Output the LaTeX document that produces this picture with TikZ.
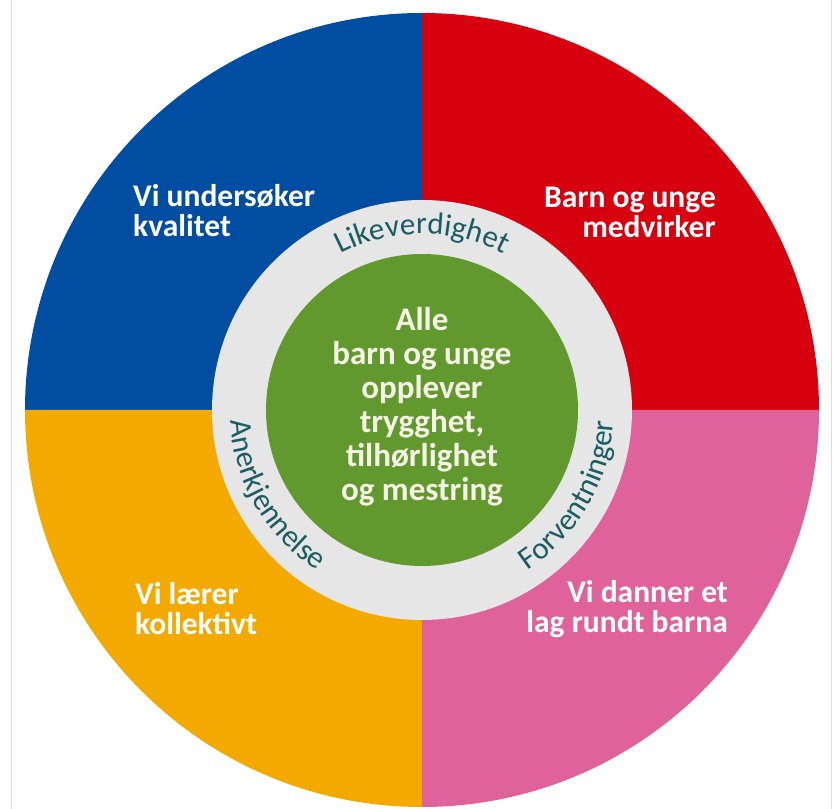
\documentclass[tikz,border=0pt]{standalone}
\usepackage{fontspec}
\setmainfont{Carlito}
\usetikzlibrary{decorations.text}

\definecolor{quadblue}{HTML}{004DA2}
\definecolor{quadred}{HTML}{D7000F}
\definecolor{quadyellow}{HTML}{F3A900}
\definecolor{quadpink}{HTML}{E0629A}
\definecolor{coregreen}{HTML}{62992E}
\definecolor{ringgray}{HTML}{E6E6E6}
\definecolor{ringteal}{HTML}{1A5C63}
\definecolor{coretext}{HTML}{F6F4E6}
\definecolor{framegray}{HTML}{DCDCDC}

\def\outerrad{397pt}
\def\ringrad{210pt}
\newcommand\ringfont{\fontsize{31}{31}\selectfont\color{ringteal}}

\begin{document}
\begin{tikzpicture}[x=1pt,y=1pt]
    \tikzstyle{quadrant text}=[text=white, font=\fontsize{31.5}{30}\selectfont\bfseries, inner sep=0pt]
    \tikzstyle{core}=[circle, fill=coregreen, minimum size=312pt, inner sep=0pt]
    \tikzstyle{core text}=[align=center, inner sep=0pt, text=coretext, font=\fontsize{33}{34}\selectfont\bfseries]
    \tikzstyle{ring label}=[decorate, decoration={text along path, text align=center, text={|\ringfont|#1}}]

    \useasboundingbox (0,0) rectangle (836,809);
    \coordinate (O) at (422,399);

    % Draw the frame edges
    \draw[framegray, line width=1pt] (11,0) -- (11,809);
    \draw[framegray, line width=1pt] (831,0) -- (831,809);

    % Draw the four quadrants
    \fill[quadred] (O) -- ++(0:\outerrad) arc[start angle=0, end angle=90, radius=\outerrad] -- cycle;
    \fill[quadblue] (O) -- ++(90:\outerrad) arc[start angle=90, end angle=180, radius=\outerrad] -- cycle;
    \fill[quadyellow] (O) -- ++(180:\outerrad) arc[start angle=180, end angle=270, radius=\outerrad] -- cycle;
    \fill[quadpink] (O) -- ++(270:\outerrad) arc[start angle=270, end angle=360, radius=\outerrad] -- cycle;

    % Draw the grey ring and the green core
    \fill[ringgray] (O) circle[radius=\ringrad];
    \node[core] (core) at (O) {};
    \node[core text] (goal) at (422,402) {Alle\\barn og unge\\opplever\\trygghet,\\tilhørlighet\\og mestring};

    % Label the quadrants
    \node[quadrant text, align=left, anchor=base west] (kvalitet) at (133,572) {Vi undersøker\\kvalitet};
    \node[quadrant text, align=right, anchor=base east] (medvirker) at (716,571) {Barn og unge\\medvirker};
    \node[quadrant text, align=left, anchor=base west] (kollektivt) at (135,174) {Vi lærer\\kollektivt};
    \node[quadrant text, align=right, anchor=base east] (barna) at (728,176) {Vi danner et\\lag rundt barna};

    % Write the values round the ring
    \path[ring label=Likeverdighet] (O) ++(150:176pt) arc[start angle=150, end angle=30, radius=176pt];
    \path[ring label=Anerkjennelse] (O) ++(160:192pt) arc[start angle=160, end angle=260, radius=192pt];
    \path[ring label=Forventninger] (O) ++(280:192pt) arc[start angle=280, end angle=380, radius=192pt];
\end{tikzpicture}
\end{document}
